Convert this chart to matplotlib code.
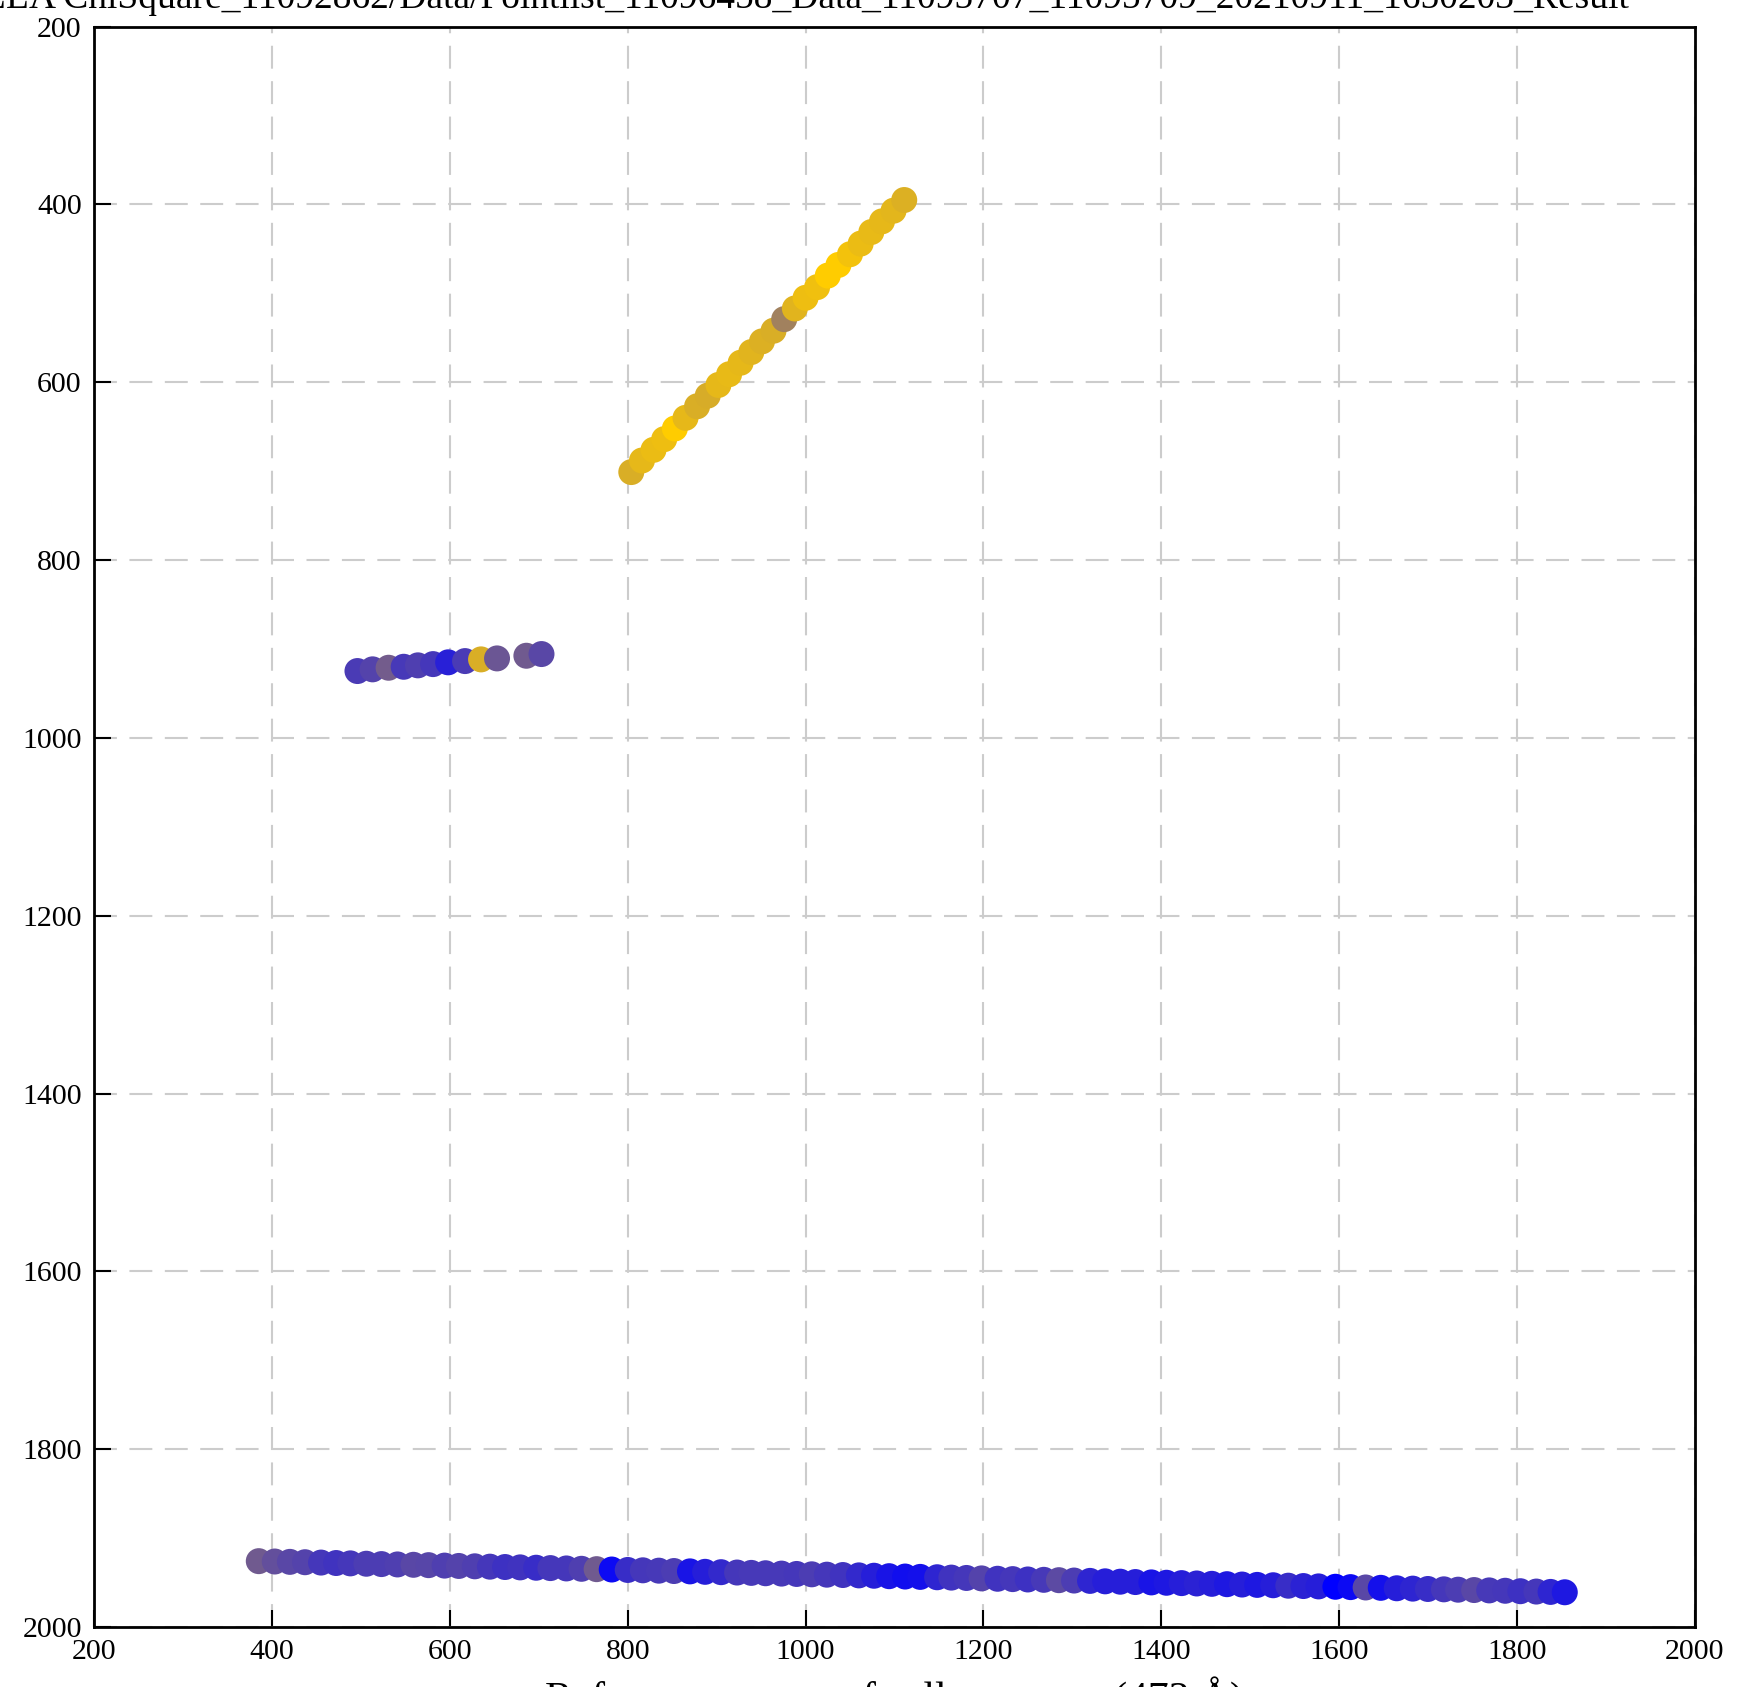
import matplotlib
matplotlib.use('Agg')
import matplotlib.pyplot as plt
from matplotlib.colors import LinearSegmentedColormap

plt.rcParams['font.family'] = ['Liberation Serif', 'DejaVu Serif']

# ── data: three point groups, colour value 0 = blue, 1 = gold ────────────────
gold_x = [804, 816, 829, 841, 853, 865, 878, 890, 902, 914, 927, 939, 951,
          964, 976, 988, 1000, 1013, 1025, 1037, 1050, 1062, 1074, 1086, 1099, 1111]
gold_y = [701, 688, 676, 664, 652, 640, 627, 615, 603, 591, 578, 566, 554,
          542, 529, 517, 505, 493, 480, 468, 456, 444, 431, 419, 407, 395]
gold_v = [0.85, 0.90, 0.92, 0.93, 1.00, 0.90, 0.85, 0.84, 0.90, 0.91, 0.90, 0.88, 0.86,
          0.85, 0.63, 0.88, 0.93, 0.94, 1.00, 1.00, 0.95, 0.92, 0.91, 0.90, 0.89, 0.86]

mid_x = [496, 513, 531, 548, 564, 581, 598, 617, 635, 653, 686, 703]
mid_y = [924.8, 922.9, 921.1, 920.0, 918.4, 917.0, 915.0, 913.6, 911.7, 910.6, 907.6, 905.7]
mid_v = [0.29, 0.33, 0.45, 0.28, 0.31, 0.27, 0.16, 0.29, 0.85, 0.42, 0.44, 0.35]

low_x = [385, 403, 420, 437, 455, 472, 488, 506, 523, 541, 559, 576, 594, 610, 628,
         645, 662, 679, 697, 713, 731, 748, 765, 782, 800, 817, 835, 852, 870, 887,
         905, 923, 939, 955, 973, 990, 1007, 1024, 1042, 1060, 1077, 1094, 1112, 1129,
         1148, 1164, 1181, 1198, 1216, 1233, 1250, 1268, 1285, 1302, 1320, 1337, 1354,
         1371, 1389, 1406, 1423, 1440, 1457, 1474, 1491, 1508, 1526, 1543, 1560, 1577,
         1596, 1613, 1630, 1647, 1665, 1683, 1700, 1718, 1734, 1752, 1769, 1787, 1804,
         1822, 1838, 1854]
low_y = [1926.0, 1926.4, 1926.8, 1927.2, 1927.6, 1928.1, 1928.5, 1928.9, 1929.3, 1929.7,
         1930.1, 1930.5, 1931.0, 1931.4, 1931.8, 1932.2, 1932.6, 1933.0, 1933.4, 1933.8,
         1934.2, 1934.6, 1935.0, 1935.4, 1935.9, 1936.3, 1936.7, 1937.1, 1937.5, 1938.0,
         1938.4, 1938.8, 1939.2, 1939.6, 1940.0, 1940.4, 1940.8, 1941.2, 1941.6, 1942.0,
         1942.4, 1942.9, 1943.3, 1943.7, 1944.1, 1944.5, 1944.9, 1945.4, 1945.8, 1946.2,
         1946.6, 1947.0, 1947.4, 1947.8, 1948.2, 1948.7, 1949.1, 1949.5, 1949.9, 1950.3,
         1950.7, 1951.1, 1951.5, 1951.9, 1952.3, 1952.7, 1953.1, 1953.6, 1954.0, 1954.4,
         1954.8, 1955.2, 1955.6, 1956.0, 1956.5, 1956.9, 1957.3, 1957.7, 1958.1, 1958.5,
         1958.9, 1959.3, 1959.8, 1960.2, 1960.6, 1961.0]
low_v = [0.44, 0.39, 0.35, 0.33, 0.27, 0.25, 0.27, 0.30, 0.30, 0.31, 0.35, 0.34, 0.31,
         0.33, 0.31, 0.27, 0.24, 0.25, 0.22, 0.27, 0.27, 0.31, 0.44, 0.05, 0.22, 0.27,
         0.28, 0.30, 0.10, 0.15, 0.20, 0.27, 0.28, 0.28, 0.28, 0.27, 0.30, 0.27, 0.25,
         0.20, 0.15, 0.10, 0.07, 0.08,
         0.18, 0.25, 0.27, 0.33, 0.25, 0.27, 0.24, 0.28, 0.36, 0.30, 0.18, 0.15, 0.15,
         0.15, 0.10, 0.12, 0.15, 0.17, 0.15, 0.12, 0.15, 0.12, 0.15, 0.22, 0.17, 0.15,
         0.00, 0.05, 0.35, 0.08, 0.15, 0.18, 0.22, 0.27, 0.30, 0.35, 0.28, 0.27, 0.24,
         0.27, 0.18, 0.12]

TICKS = [200, 400, 600, 800, 1000, 1200, 1400, 1600, 1800, 2000]
TITLE = ('LLA ChiSquare_11092862/Data/Pointlist_11096458_Data_11095707_'
         '11095709_20210911_1650203_Result')
XLABEL = 'Reference sensor of cell response (473 Å)'

cmap = LinearSegmentedColormap.from_list('bg', ['#0000FF', '#FFCC00'])

# ── plot ──────────────────────────────────────────────────────────────────────
fig = plt.figure(figsize=(17.4, 16.87), dpi=100)
ax = fig.add_axes([0.0542, 0.0356, 0.9197, 0.9486])

for xs, ys, vs in [(low_x, low_y, low_v), (mid_x, mid_y, mid_v), (gold_x, gold_y, gold_v)]:
    ax.scatter(xs, ys, c=vs, cmap=cmap, vmin=0, vmax=1, s=350,
               linewidths=0, zorder=3)

ax.set_xlim(200, 2000)
ax.set_ylim(2000, 200)
ax.set_xticks(TICKS)
ax.set_yticks(TICKS)
ax.grid(True, color='#cccccc', linewidth=1.5, linestyle=(0, (11, 6)), zorder=0)
ax.tick_params(direction='in', length=12, width=1.5, labelsize=21.5, pad=9,
               top=False, right=False)
for sp in ax.spines.values():
    sp.set_linewidth(2)

# title and x label overflow the canvas in the original, only partly visible
fig.text(-0.01, 0.9955, TITLE, ha='left', va='baseline', fontsize=27)
fig.text(0.514, -0.0145, XLABEL, ha='center', va='baseline', fontsize=30)

fig.savefig('out.png', dpi=100, facecolor='white')
plt.close(fig)
